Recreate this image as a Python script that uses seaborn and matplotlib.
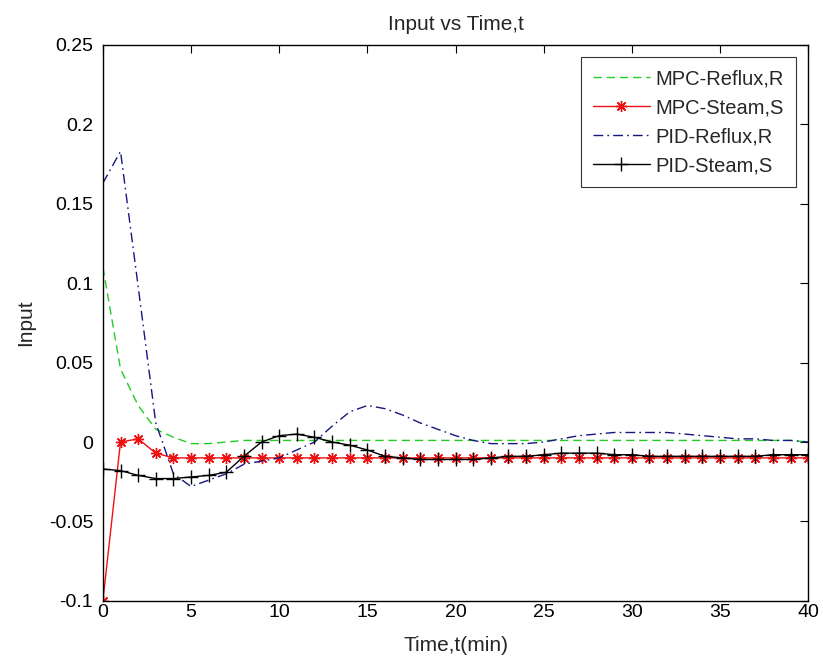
import matplotlib
matplotlib.use("Agg")
import matplotlib.pyplot as plt
import seaborn as sns
import pandas as pd
import numpy as np

t = list(range(0, 41))

mpc_reflux = [0.110, 0.046, 0.023, 0.008, 0.003, -0.001, -0.001, 0.000, 0.001, 0.001,
              0.001, 0.001, 0.001, 0.001, 0.001, 0.001, 0.001, 0.001, 0.001, 0.001,
              0.001, 0.001, 0.001, 0.001, 0.001, 0.001, 0.001, 0.001, 0.001, 0.001,
              0.001, 0.001, 0.001, 0.001, 0.001, 0.001, 0.001, 0.001, 0.001, 0.001, 0.000]
mpc_steam = [-0.100, 0.000, 0.002, -0.007, -0.010, -0.010, -0.010, -0.010, -0.010, -0.010,
             -0.010, -0.010, -0.010, -0.010, -0.010, -0.010, -0.010, -0.010, -0.010, -0.010,
             -0.010, -0.010, -0.010, -0.010, -0.010, -0.010, -0.010, -0.010, -0.010, -0.010,
             -0.010, -0.010, -0.010, -0.010, -0.010, -0.010, -0.010, -0.010, -0.010, -0.010, -0.010]
pid_reflux = [0.163, 0.183, 0.098, 0.012, -0.020, -0.028, -0.024, -0.020, -0.014, -0.012,
              -0.010, -0.005, 0.000, 0.010, 0.019, 0.023, 0.021, 0.017, 0.012, 0.008,
              0.004, 0.001, -0.001, -0.001, -0.001, 0.000, 0.002, 0.004, 0.005, 0.006,
              0.006, 0.006, 0.006, 0.005, 0.004, 0.003, 0.002, 0.002, 0.001, 0.001, 0.000]
pid_steam = [-0.017, -0.018, -0.021, -0.023, -0.023, -0.022, -0.021, -0.019, -0.009, 0.000,
             0.004, 0.005, 0.003, 0.000, -0.002, -0.005, -0.009, -0.010, -0.011, -0.011,
             -0.011, -0.011, -0.010, -0.009, -0.009, -0.008, -0.007, -0.007, -0.007, -0.008,
             -0.008, -0.009, -0.009, -0.009, -0.009, -0.009, -0.009, -0.009, -0.008, -0.008, -0.008]

labels = ["MPC-Reflux,R", "MPC-Steam,S", "PID-Reflux,R", "PID-Steam,S"]
xticks = [0, 5, 10, 15, 20, 25, 30, 35, 40]
yticks = [-0.1, -0.05, 0, 0.05, 0.1, 0.15, 0.2, 0.25]
ytick_labels = ["-0.1", "-0.05", "0", "0.05", "0.1", "0.15", "0.2", "0.25"]

sns.set_style("white")
plt.rcParams['font.family'] = ['Liberation Sans', 'DejaVu Sans']

fig = plt.figure(figsize=(8.23, 6.61), dpi=100)
ax = fig.add_axes([0.125, 0.091, 0.857, 0.841])

red = "#ee1111"
sns.lineplot(x=t, y=mpc_reflux, ax=ax, color="#22cc22", linestyle=(0, (6, 3.5)),
             linewidth=1.0, label=labels[0])
sns.lineplot(x=t, y=mpc_steam, ax=ax, color=red, linestyle="-", marker=(8, 2, 0),
             markersize=8, markeredgewidth=1.0, markeredgecolor=red, linewidth=1.0,
             label=labels[1])
sns.lineplot(x=t, y=pid_reflux, ax=ax, color="#161680", linestyle=(0, (7, 3, 1.2, 3)),
             linewidth=1.0, label=labels[2])
sns.lineplot(x=t, y=pid_steam, ax=ax, color="black", linestyle="-", marker="+",
             markersize=10, markeredgewidth=1.0, markeredgecolor="black", linewidth=1.0,
             label=labels[3])

ax.set_xlim(0, 40)
ax.set_ylim(-0.1, 0.25)
ax.set_xticks(xticks)
ax.set_xticklabels([str(v) for v in xticks])
ax.set_yticks(yticks)
ax.set_yticklabels(ytick_labels)
ax.tick_params(direction="in", top=True, right=True, length=6, width=0.8,
               labelsize=14, colors="black")
ax.tick_params(axis="x", pad=2)
ax.tick_params(axis="y", pad=7)
for s in ax.spines.values():
    s.set_color("black")
    s.set_linewidth(1.0)

ax.set_title("Input vs Time,t", fontsize=15, pad=11)
ax.set_xlabel("Time,t(min)", fontsize=15, labelpad=11)
ax.set_ylabel("Input", fontsize=15, labelpad=10)

leg = ax.legend(loc="upper right", fontsize=14.5, frameon=True, fancybox=False,
                edgecolor="black", handlelength=2.8, labelspacing=0.5,
                borderpad=0.6, handletextpad=0.3, borderaxespad=0.6)
leg.get_frame().set_linewidth(0.8)

fig.savefig("out.png", dpi=100)
